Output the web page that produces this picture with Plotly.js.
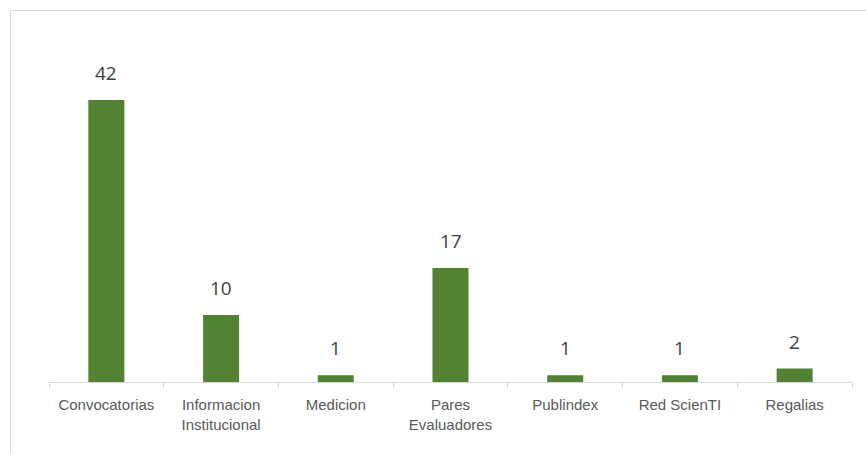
<!DOCTYPE html>
<html>
<head>
<meta charset="utf-8">
<script src="https://cdn.plot.ly/plotly-3.0.1.min.js"></script>
<style>
html,body{margin:0;padding:0;background:#fff;overflow:hidden;}
#frame{position:absolute;left:10px;top:10px;width:900px;height:500px;border:1px solid #d9d9d9;box-sizing:border-box;}
#chart{position:absolute;left:0;top:0;width:866px;height:454px;}
</style>
</head>
<body>
<div id="frame"></div>
<div id="chart"></div>
<script>
const categories = ["Convocatorias", "Informacion<br>Institucional", "Medicion", "Pares<br>Evaluadores", "Publindex", "Red ScienTI", "Regalias"];
const values = [42, 10, 1, 17, 1, 1, 2];

const annotations = categories.map((c, i) => ({
  x: c, y: values[i], xref: 'x', yref: 'y',
  text: String(values[i]), showarrow: false,
  yanchor: 'bottom', yshift: 12,
  font: {family: 'Open Sans, Noto Sans, sans-serif', size: 19, color: '#404040'}
}));

const trace = {
  type: 'bar', x: categories, y: values,
  marker: {color: '#548235'},
  hoverinfo: 'none'
};

const layout = {
  width: 866, height: 454,
  margin: {l: 49, r: 14, t: 33, b: 72},
  paper_bgcolor: 'rgba(0,0,0,0)', plot_bgcolor: 'rgba(0,0,0,0)',
  bargap: 0.686,
  showlegend: false,
  xaxis: {
    type: 'category', range: [-0.5, 6.5],
    showline: true, linecolor: '#d9d9d9', linewidth: 1,
    ticks: 'outside', tickson: 'boundaries', ticklen: 5, tickcolor: '#d9d9d9', tickwidth: 1,
    showgrid: false, zeroline: false, tickangle: 0, ticklabelstandoff: 9,
    tickfont: {family: 'Liberation Sans, Arial, sans-serif', size: 15, color: '#595959'}
  },
  yaxis: {
    range: [0, 52], visible: false, showgrid: false, zeroline: false
  },
  annotations: annotations
};

Plotly.newPlot('chart', [trace], layout, {displayModeBar: false, staticPlot: true});
</script>
</body>
</html>
